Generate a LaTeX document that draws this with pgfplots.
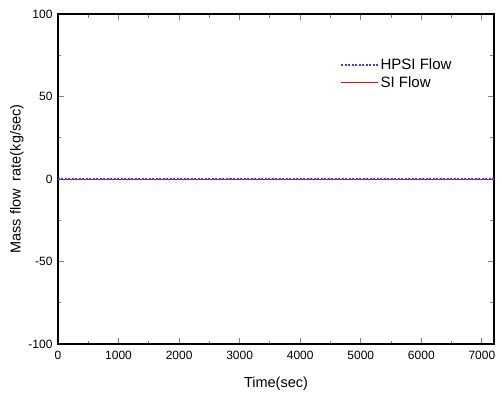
\documentclass[border=0pt]{standalone}
\usepackage{pgfplots}
\pgfplotsset{compat=1.18}
\usepackage{fontspec}
\setmainfont{Liberation Sans}
\definecolor{hpsiblue}{RGB}{60,60,255}
\begin{document}
\begin{tikzpicture}
\useasboundingbox (-58bp,-51bp) rectangle (443bp,344bp);
\begin{axis}[
  at={(0,0)}, anchor=south west,
  scale only axis,
  width=436bp, height=330bp,
  xmin=0, xmax=7200, ymin=-100, ymax=100,
  xtick={0,1000,...,7000},
  ytick={-100,-50,0,50,100},
  minor xtick={500,1500,...,7000},
  minor ytick={-75,-25,25,75},
  tick align=inside,
  major tick length=6bp, minor tick length=3.5bp,
  tick style={line width=0.9bp},
  axis line style={line width=1.1bp},
  /pgf/number format/assume math mode=true,
  scaled x ticks=false,
  xticklabel style={/pgf/number format/1000 sep={}, yshift=-4bp},
  yticklabel style={xshift=-2bp},
  ticklabel style={font=\fontsize{12bp}{14bp}\selectfont},
  xlabel={Time(sec)}, ylabel={Mass flow\ \ rate(kg/sec)},
  label style={font=\fontsize{14.5bp}{17bp}\selectfont},
  xlabel style={yshift=-10bp},
  ylabel style={yshift=-2bp},
  legend style={at={(0.645,0.874)}, anchor=north west, draw=none, fill=none,
    font=\fontsize{15bp}{17bp}\selectfont, row sep=1.5bp,
    inner sep=1bp},
  legend cell align=left,
  legend image code/.code={\draw[#1] (0bp,0bp) -- (37bp,0bp);},
]
\addplot[color=hpsiblue, line width=1.2bp, dash pattern=on 2bp off 1.5bp] coordinates {(0,0) (7200,0)};
\addlegendentry{HPSI Flow}
\addplot[color=red, line width=1bp] coordinates {(0,0) (7200,0)};
\addlegendentry{SI Flow}
\addplot[color=hpsiblue, line width=1.2bp, dash pattern=on 2bp off 1.5bp, forget plot] coordinates {(0,0) (7200,0)};
\end{axis}
\end{tikzpicture}
\end{document}
